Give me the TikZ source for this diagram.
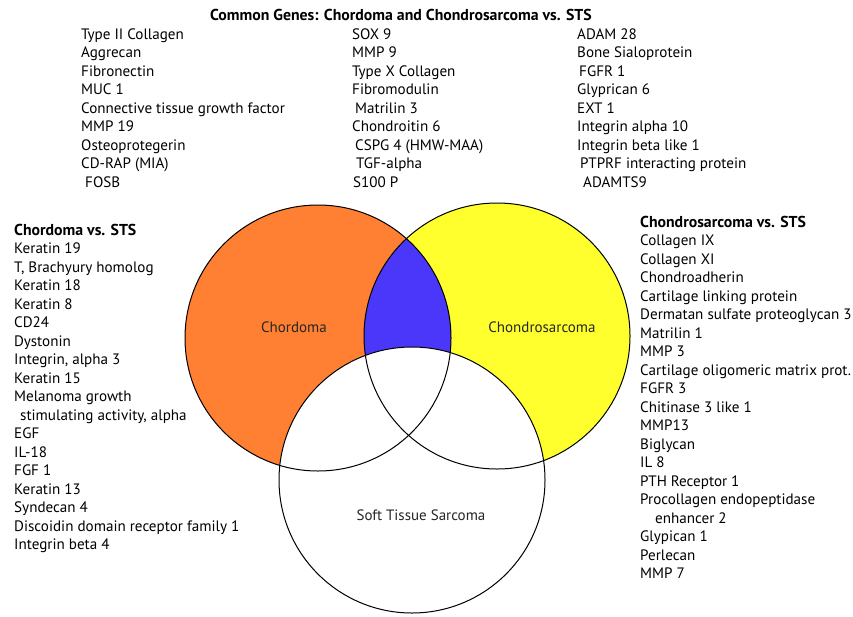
\documentclass[tikz,border=0pt]{standalone}
\usepackage{fontspec}
\setmainfont{PT Sans}
\usepackage{xcolor}
\definecolor{chordorange}{RGB}{255,128,50}
\definecolor{chondroyellow}{RGB}{255,255,45}
\definecolor{commonblue}{RGB}{75,55,250}

\begin{document}
\begin{tikzpicture}[x=1pt,y=-1pt,
    gene/.style={anchor=base west, inner sep=0pt, font=\fontsize{15.1}{18}\selectfont},
    head/.style={gene, font=\fontsize{15.8}{18}\selectfont\bfseries},
    setlabel/.style={inner sep=0pt, font=\fontsize{15}{17}\selectfont, text=black!85}]
  \useasboundingbox (0,0) rectangle (853,616);
  \def\r{133pt} % radius of each set
  \def\dy{18.5} % line spacing of the lists

  % Centres of the three sets
  \coordinate (C1) at (318,338);
  \coordinate (C2) at (497,336);
  \coordinate (C3) at (412,480);

  % Fill the sets
  \fill[chordorange] (C1) circle (\r);
  \fill[chondroyellow] (C2) circle (\r);
  \begin{scope}
    \clip (C1) circle (\r);
    \fill[commonblue] (C2) circle (\r);
  \end{scope}
  \fill[white] (C3) circle (\r);

  % Outlines
  \foreach \c in {C1,C2,C3} {
    \draw[line width=1pt] (\c) circle (\r);
  }

  % Set labels
  \node[setlabel] (chordoma) at (294,327) {Chordoma};
  \node[setlabel] (chondro) at (542,327) {Chondrosarcoma};
  \node[setlabel] (sts) at (421,515) {Soft Tissue Sarcoma};

  % Common genes
  \node[head, anchor=base] (common) at (401,20) {Common Genes: Chordoma and Chondrosarcoma vs. STS};
  \foreach \g [count=\i] in {Type II Collagen, Aggrecan, Fibronectin, MUC 1,
      Connective tissue growth factor, MMP 19, Osteoprotegerin, CD-RAP (MIA),
      {\hspace{4pt}FOSB}} {
    \node[gene] (ca\i) at (81,{39+(\i-1)*\dy}) {\g};
  }
  \foreach \g [count=\i] in {SOX 9, MMP 9, Type X Collagen, Fibromodulin,
      {\hspace{3pt}Matrilin 3}, Chondroitin 6, {\hspace{3pt}CSPG 4 (HMW-MAA)},
      {\hspace{4pt}TGF-alpha}, {\hspace{1pt}S100 P}} {
    \node[gene] (cb\i) at (352,{39+(\i-1)*\dy}) {\g};
  }
  \foreach \g [count=\i] in {ADAM 28, Bone Sialoprotein, {\hspace{2pt}FGFR 1},
      Glyprican 6, EXT 1, Integrin alpha 10, Integrin beta like 1,
      {\hspace{3pt}PTPRF interacting protein}, {\hspace{6pt}ADAMTS9}} {
    \node[gene] (cc\i) at (577,{39+(\i-1)*\dy}) {\g};
  }

  % Chordoma vs. STS
  \node[head] (chordhead) at (14,235) {Chordoma vs. STS};
  \foreach \g [count=\i] in {Keratin 19, {T, Brachyury homolog}, Keratin 18,
      Keratin 8, CD24, Dystonin, {Integrin, alpha 3}, Keratin 15,
      Melanoma growth, {\hspace{6pt}stimulating activity, alpha}, EGF, IL-18,
      FGF 1, Keratin 13, Syndecan 4, Discoidin domain receptor family 1,
      Integrin beta 4} {
    \node[gene] (ch\i) at (14,{235+\i*\dy}) {\g};
  }

  % Chondrosarcoma vs. STS
  \node[head] (condhead) at (640,227) {Chondrosarcoma vs. STS};
  \foreach \g [count=\i] in {Collagen IX, Collagen XI, Chondroadherin,
      Cartilage linking protein, Dermatan sulfate proteoglycan 3, Matrilin 1,
      MMP 3, Cartilage oligomeric matrix prot., FGFR 3, Chitinase 3 like 1,
      MMP13, Biglycan, IL 8, PTH Receptor 1, Procollagen endopeptidase,
      {\hspace{15pt}enhancer 2}, Glypican 1, Perlecan, MMP 7} {
    \node[gene] (cs\i) at (640,{227+\i*\dy}) {\g};
  }
\end{tikzpicture}
\end{document}
